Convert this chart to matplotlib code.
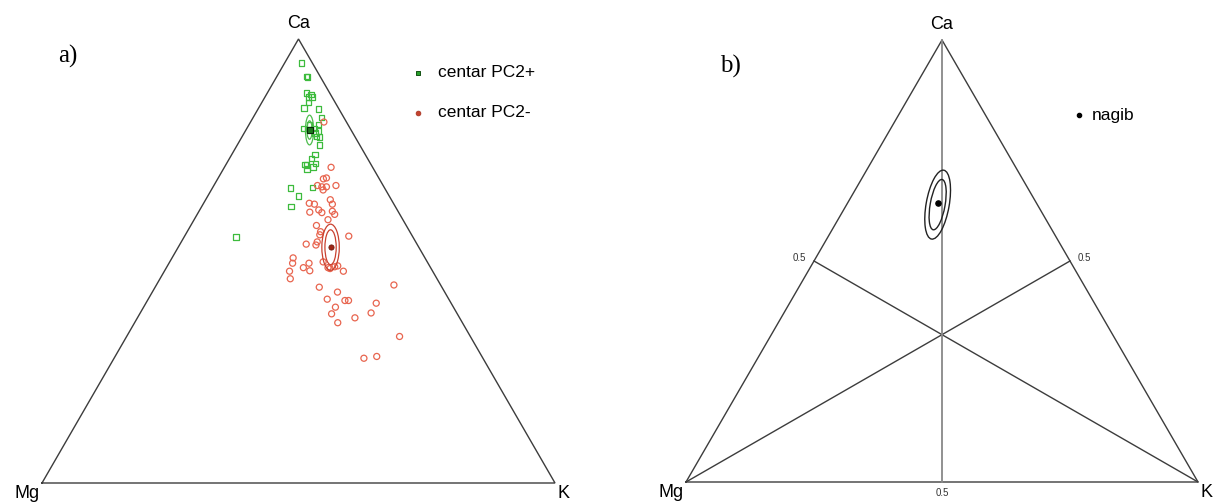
import numpy as np
import matplotlib
matplotlib.use("Agg")
import matplotlib.pyplot as plt
from matplotlib.patches import Ellipse

# ---------------- data (compositions: Ca, K; Mg = 1 - Ca - K) ----------------
green_ca = [0.946, 0.915, 0.914, 0.878, 0.875, 0.869, 0.869, 0.857, 0.845, 0.842,
            0.823, 0.808, 0.798, 0.798, 0.807, 0.793, 0.788, 0.780, 0.779, 0.761,
            0.740, 0.731, 0.718, 0.716, 0.720, 0.707, 0.664, 0.666, 0.646, 0.623,
            0.554, 0.795, 0.712]
green_k = [0.033, 0.058, 0.060, 0.076, 0.087, 0.085, 0.092, 0.091, 0.088, 0.118,
           0.133, 0.117, 0.111, 0.131, 0.135, 0.143, 0.138, 0.145, 0.152, 0.160,
           0.162, 0.160, 0.154, 0.157, 0.173, 0.163, 0.153, 0.194, 0.177, 0.174,
           0.101, 0.124, 0.172]

red_ca = [0.813, 0.711, 0.685, 0.687, 0.670, 0.667, 0.667, 0.670, 0.660, 0.638,
          0.628, 0.630, 0.628, 0.615, 0.609, 0.610, 0.612, 0.605, 0.593, 0.580,
          0.566, 0.559, 0.556, 0.538, 0.543, 0.536, 0.507, 0.495, 0.495, 0.485,
          0.478, 0.498, 0.477, 0.485, 0.483, 0.487, 0.489, 0.477, 0.460, 0.441,
          0.446, 0.430, 0.414, 0.411, 0.411, 0.405, 0.396, 0.383, 0.381, 0.372,
          0.361, 0.330, 0.281, 0.285]
red_k = [0.143, 0.208, 0.206, 0.211, 0.202, 0.212, 0.221, 0.238, 0.218, 0.243,
         0.252, 0.206, 0.217, 0.232, 0.241, 0.217, 0.260, 0.268, 0.261, 0.245,
         0.260, 0.262, 0.320, 0.246, 0.265, 0.266, 0.236, 0.241, 0.273, 0.267,
         0.283, 0.299, 0.244, 0.315, 0.320, 0.327, 0.332, 0.349, 0.254, 0.320,
         0.463, 0.361, 0.349, 0.385, 0.392, 0.449, 0.374, 0.450, 0.374, 0.424,
         0.396, 0.532, 0.487, 0.510]

# group centres (Ca, K)
center_plus = (0.795, 0.124)
center_minus = (0.531, 0.297)
center_nagib = (0.631, 0.176)

# confidence ellipses: (minor, major) full axes in triangle-side units, tilt (deg)
ell_plus = [(0.016, 0.058, 0), (0.010, 0.036, 0)]
ell_minus = [(0.034, 0.090, 0), (0.022, 0.068, 0)]
ell_nagib = [(0.045, 0.137, -10), (0.029, 0.100, -10)]

corner_labels = ["Mg", "K", "Ca"]
legend_a = ["centar PC2+", "centar PC2-"]
legend_b = ["nagib"]
tick_label = "0.5"

S3 = np.sqrt(3) / 2


def tern(ca, k):
    ca = np.asarray(ca, float)
    k = np.asarray(k, float)
    return k + ca / 2, ca * S3


W, H = 1213, 504
fig = plt.figure(figsize=(W / 100, H / 100), dpi=100)
fig.patch.set_facecolor("white")

axA = fig.add_axes([42 / W, (H - 483) / H, 513 / W, 444 / H])
axB = fig.add_axes([686 / W, (H - 482) / H, 512 / W, 442 / H])

edge = "#3c3c3c"
sans = ["Liberation Sans", "DejaVu Sans"]
for ax in (axA, axB):
    ax.set_xlim(0, 1)
    ax.set_ylim(0, S3)
    ax.axis("off")
    ax.plot([0, 1, 0.5, 0], [0, 0, S3, 0], color=edge, lw=1.0, clip_on=False,
            solid_joinstyle="miter")
    ax.text(0.5, S3 + 0.013, corner_labels[2], ha="center", va="bottom",
            fontsize=13, family=sans)
    ax.text(-0.005, -0.004, corner_labels[0], ha="right", va="top",
            fontsize=13, family=sans)
    ax.text(1.005, -0.004, corner_labels[1], ha="left", va="top",
            fontsize=13, family=sans)

# ---------------- panel a ----------------
gx, gy = tern(green_ca, green_k)
rx, ry = tern(red_ca, red_k)
axA.scatter(gx, gy, marker="s", s=15, facecolors="none", edgecolors="#3dbb3d",
            linewidths=0.9, clip_on=False, zorder=3)
axA.scatter(rx, ry, marker="o", s=19, facecolors="none", edgecolors="#e8654f",
            linewidths=0.9, clip_on=False, zorder=3)

cx, cy = tern(center_plus[0], center_plus[1])
for w, h, a in ell_plus:
    axA.add_patch(Ellipse((cx, cy), w, h, angle=a, fill=False, ec="#4dbd4d", lw=0.9, zorder=4))
axA.scatter([cx], [cy], marker="s", s=14, c="#1d7a1d", edgecolors="#0a2a0a",
            linewidths=0.8, zorder=5)

cx, cy = tern(center_minus[0], center_minus[1])
for w, h, a in ell_minus:
    axA.add_patch(Ellipse((cx, cy), w, h, angle=a, fill=False, ec="#c9412f", lw=0.9, zorder=4))
axA.scatter([cx], [cy], marker="o", s=14, c="#9e2414", edgecolors="#6e1a0e",
            linewidths=0.6, zorder=5)

# legend a
axA.scatter([0.733], [0.800], marker="s", s=12, c="#27a02a", edgecolors="#145214",
            linewidths=0.7, clip_on=False)
axA.text(0.772, 0.800, legend_a[0], va="center", ha="left", fontsize=12.5, family=sans)
axA.scatter([0.733], [0.722], marker="o", s=12, c="#c4422e", edgecolors="#a5301e",
            linewidths=0.5, clip_on=False)
axA.text(0.772, 0.722, legend_a[1], va="center", ha="left", fontsize=12.5, family=sans)

fig.text(58 / W, 1 - 56 / H, "a)", fontsize=18, family=["Liberation Serif", "DejaVu Serif"],
         va="center", ha="left")

# ---------------- panel b ----------------
mids = [(0.25, S3 / 2), (0.75, S3 / 2), (0.5, 0.0)]
verts = [(1.0, 0.0), (0.0, 0.0), (0.5, S3)]
for (mx, my), (vx, vy), col, lw in zip(mids, verts, [edge, edge, "#888888"], [1.0, 1.0, 1.3]):
    axB.plot([vx, mx], [vy, my], color=col, lw=lw, clip_on=False, zorder=2)

axB.text(0.25 - 0.015, S3 / 2 + 0.006, tick_label, ha="right", va="center", fontsize=7,
         family=sans, color="#333333")
axB.text(0.75 + 0.015, S3 / 2 + 0.006, tick_label, ha="left", va="center", fontsize=7,
         family=sans, color="#333333")
axB.text(0.5, -0.012, tick_label, ha="center", va="top", fontsize=7, family=sans,
         color="#333333")

cx, cy = tern(center_nagib[0], center_nagib[1])
for w, h, a in ell_nagib:
    axB.add_patch(Ellipse((cx, cy - 0.003), w, h, angle=a, fill=False, ec="#222222",
                          lw=1.0, zorder=4))
axB.scatter([cx], [cy], marker="o", s=14, c="black", zorder=5)

axB.scatter([0.768], [0.719], marker="o", s=9, c="black", clip_on=False)
axB.text(0.793, 0.719, legend_b[0], va="center", ha="left", fontsize=12.5, family=sans)

fig.text(720 / W, 1 - 66 / H, "b)", fontsize=18, family=["Liberation Serif", "DejaVu Serif"],
         va="center", ha="left")

fig.savefig("out.png", dpi=100, facecolor="white")
